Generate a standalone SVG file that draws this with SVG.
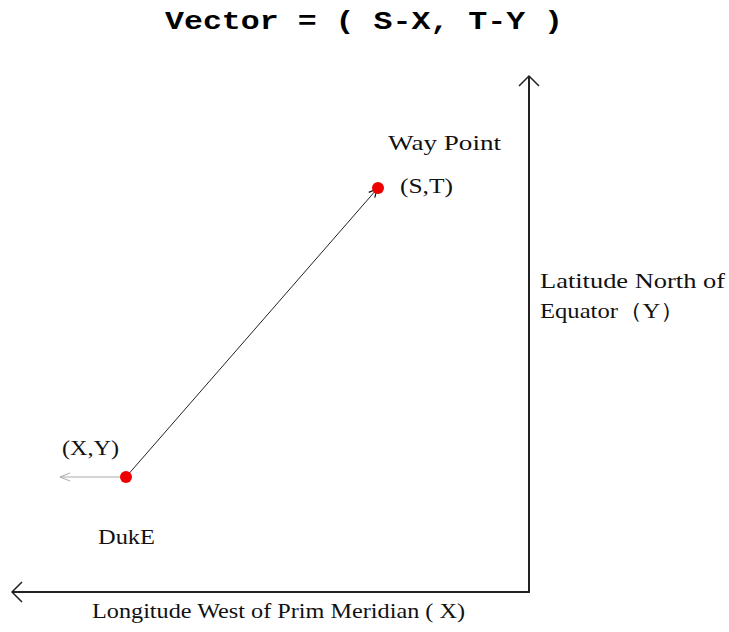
<svg xmlns="http://www.w3.org/2000/svg" width="729" height="632" viewBox="0 0 729 632">
<style>
.t{font-family:"Liberation Serif",serif;font-size:22px;fill:#111}
.ttl{font-family:"Liberation Mono",monospace;font-size:26px;font-weight:bold;fill:#000}
.ax{stroke:#222;stroke-width:2;fill:none}
.ah{stroke:#222;stroke-width:1.5;fill:none}
.dot{fill:#ee0000}
</style>
<defs>
<marker id="arr" markerWidth="10" markerHeight="10" refX="9" refY="5" orient="auto" markerUnits="userSpaceOnUse">
<path d="M1,1 L9,5 L1,9" fill="none" stroke="#111" stroke-width="1.2"/>
</marker>
<marker id="garr" markerWidth="12" markerHeight="10" refX="11" refY="5" orient="auto" markerUnits="userSpaceOnUse">
<path d="M1,1 L11,5 L1,9" fill="none" stroke="#aaa" stroke-width="1"/>
</marker>
</defs>
<rect width="729" height="632" fill="#fff"/>
<text class="ttl" x="165" y="29" textLength="398" lengthAdjust="spacingAndGlyphs">Vector = ( S-X, T-Y )</text>
<g id="connectors">
<path class="ax" d="M529,76 V592 H12"/>
<path class="ah" d="M519,86 L529,76 L539,86"/>
<path class="ah" d="M22,582 L12,592 L22,602"/>
<line x1="126" y1="477" x2="377" y2="189" stroke="#222" stroke-width="1" marker-end="url(#arr)"/>
<line x1="122" y1="477" x2="60" y2="477" stroke="#aaa" stroke-width="1" marker-end="url(#garr)"/>
</g>
<g id="waypoint">
<circle class="dot" cx="378" cy="188" r="6"/>
<text class="t" x="388" y="150" textLength="113" lengthAdjust="spacingAndGlyphs">Way Point</text>
<text class="t" x="400" y="193" textLength="53" lengthAdjust="spacingAndGlyphs">(S,T)</text>
</g>
<g id="duke">
<circle class="dot" cx="126" cy="477" r="6"/>
<text class="t" x="62" y="455" textLength="57" lengthAdjust="spacingAndGlyphs">(X,Y)</text>
<text class="t" x="98" y="544" textLength="57" lengthAdjust="spacingAndGlyphs">DukE</text>
</g>
<g id="ylabel">
<text class="t" x="540" y="288" textLength="185" lengthAdjust="spacingAndGlyphs">Latitude North of</text>
<text class="t" x="540" y="318" textLength="145" lengthAdjust="spacingAndGlyphs">Equator（Y）</text>
</g>
<g id="xlabel">
<text class="t" x="92" y="618" textLength="373" lengthAdjust="spacingAndGlyphs">Longitude West of Prim Meridian ( X)</text>
</g>
</svg>
